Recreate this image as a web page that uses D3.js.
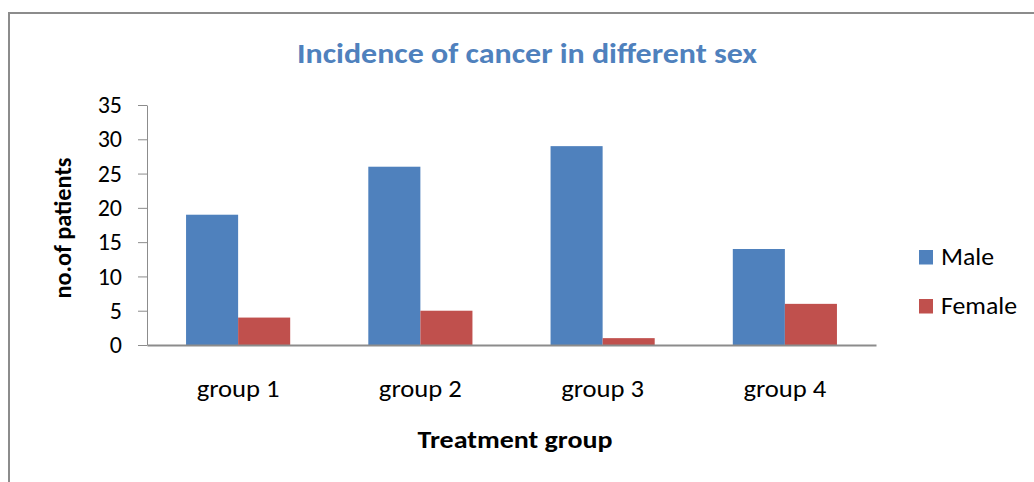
<!DOCTYPE html>
<html>
<head>
<meta charset="utf-8">
<script src="https://cdn.jsdelivr.net/npm/d3@7"></script>
<style>
  html, body { margin: 0; padding: 0; background: #fff; }
  svg { display: block; font-family: Carlito, Lato, "Open Sans", sans-serif; }
</style>
</head>
<body>
<svg id="chart" width="1034" height="482"></svg>
<script>
// Chart data
const groups = ["group 1", "group 2", "group 3", "group 4"];
const seriesNames = ["Male", "Female"];
const maleValues = [19, 26, 29, 14];
const femaleValues = [4, 5, 1, 6];
const yTicks = [0, 5, 10, 15, 20, 25, 30, 35];
const seriesColors = ["#4F81BD", "#C0504D"];

const FONT = "Carlito, Lato, 'Open Sans', sans-serif";
const svg = d3.select("#chart");

// Squeeze or stretch a text run to a set width
function fitWidth(sel, w) {
  sel.attr("textLength", w).attr("lengthAdjust", "spacingAndGlyphs");
  return sel;
}

// Outer chart frame
svg.append("rect")
  .attr("x", 9).attr("y", 13)
  .attr("width", 1040).attr("height", 490)
  .attr("fill", "none").attr("stroke", "#8c8c8c").attr("stroke-width", 2);

const plot = { left: 147, right: 876, top: 105, bottom: 345 };

const x = d3.scaleBand().domain(groups).range([plot.left, plot.right]);
const y = d3.scaleLinear().domain([0, 35]).range([plot.bottom, plot.top]);
const barW = x.bandwidth() / 3.5;

const rows = groups.map((g, i) => ({ group: g, values: [maleValues[i], femaleValues[i]] }));

// Bars: two per group, centred on the band
const gBars = svg.append("g");
rows.forEach(r => {
  const cx = x(r.group) + x.bandwidth() / 2;
  r.values.forEach((v, s) => {
    gBars.append("rect")
      .attr("x", cx - barW + s * barW)
      .attr("y", y(v))
      .attr("width", barW)
      .attr("height", y(0) - y(v))
      .attr("fill", seriesColors[s]);
  });
});

// Y axis
const yAxis = svg.append("g")
  .attr("transform", `translate(${plot.left},0)`)
  .call(d3.axisLeft(y).tickValues(yTicks).tickSize(9).tickSizeOuter(0).tickPadding(16));
yAxis.select(".domain").attr("stroke", "#8c8c8c");
yAxis.selectAll(".tick line").attr("stroke", "#8c8c8c");
yAxis.selectAll(".tick text")
  .attr("font-size", 24).attr("fill", "#000")
  .attr("font-family", FONT);

// X axis
const xAxis = svg.append("g")
  .attr("transform", `translate(0,${plot.bottom})`)
  .call(d3.axisBottom(x).tickSize(0));
xAxis.select(".domain").attr("stroke", "#8c8c8c").attr("stroke-width", 2);
xAxis.selectAll(".tick text")
  .attr("y", 52).attr("dy", 0)
  .attr("font-size", 24).attr("fill", "#000")
  .attr("font-family", FONT)
  .call(fitWidth, 83);

// Title
svg.append("text")
  .attr("x", 527).attr("y", 63)
  .attr("text-anchor", "middle")
  .attr("font-size", 28).attr("font-weight", "bold")
  .attr("fill", "#4F81BD")
  .text("Incidence of cancer in different sex")
  .call(fitWidth, 460);

// Axis titles
svg.append("text")
  .attr("transform", "translate(71,228) rotate(-90)")
  .attr("text-anchor", "middle")
  .attr("font-size", 24).attr("font-weight", "bold")
  .text("no.of patients")
  .call(fitWidth, 141);

svg.append("text")
  .attr("x", 515).attr("y", 448)
  .attr("text-anchor", "middle")
  .attr("font-size", 24).attr("font-weight", "bold")
  .text("Treatment group")
  .call(fitWidth, 195);

// Legend
const legendWidths = [53, 76];
const legend = svg.append("g");
seriesNames.forEach((name, i) => {
  const ly = 250 + i * 49;
  legend.append("rect")
    .attr("x", 919).attr("y", ly)
    .attr("width", 14).attr("height", 14.5)
    .attr("fill", seriesColors[i]);
  legend.append("text")
    .attr("x", 941).attr("y", ly + 15)
    .attr("font-size", 24)
    .text(name)
    .call(fitWidth, legendWidths[i]);
});
</script>
</body>
</html>
